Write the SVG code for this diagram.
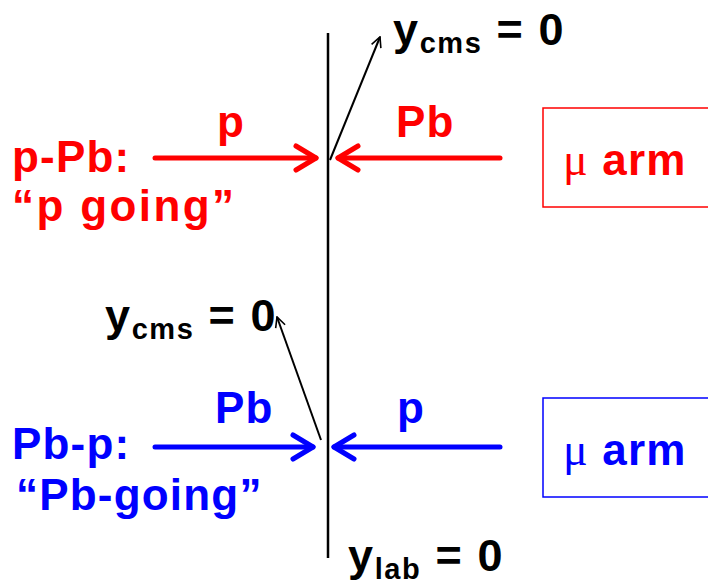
<svg xmlns="http://www.w3.org/2000/svg" width="708" height="584" viewBox="0 0 708 584">
<style>
text{font-family:"Liberation Sans",Arial,sans-serif;font-weight:bold;letter-spacing:1.2px}
.r{fill:#ff0000}.b{fill:#0000ff}.k{fill:#000}
.big{font-size:44px}
.lbl{font-size:45px;letter-spacing:1.6px}
.sub{font-size:29px}
.wide{letter-spacing:2.4px}
.mu{font-family:"Liberation Serif","Times New Roman",serif;font-weight:normal;font-size:46px}
.thick{stroke-width:5;fill:none;stroke-linecap:round;stroke-linejoin:round}
</style>
<defs>
<marker id="ha" viewBox="0 0 12 12" refX="11" refY="6" markerWidth="12" markerHeight="12" markerUnits="userSpaceOnUse" orient="auto"><path d="M1,1 L11,6 L1,11" fill="none" stroke="#000" stroke-width="1.6"/></marker>
</defs>
<g id="axis"><line x1="328" y1="33" x2="328" y2="558" stroke="#000" stroke-width="2.5"/></g>
<g id="connectors">
<line x1="330" y1="160" x2="380" y2="37" stroke="#000" stroke-width="2" marker-end="url(#ha)"/>
<line x1="321" y1="440" x2="277" y2="317" stroke="#000" stroke-width="2" marker-end="url(#ha)"/>
<g class="thick" stroke="#ff0000">
<line x1="155" y1="158" x2="316" y2="158"/><path d="M296,146 L316,158 L296,170"/>
<line x1="500" y1="158" x2="338" y2="158"/><path d="M358,146 L338,158 L358,170"/>
</g>
<g class="thick" stroke="#0000ff">
<line x1="155" y1="447" x2="313" y2="447"/><path d="M293,435 L313,447 L293,459"/>
<line x1="500" y1="447" x2="334" y2="447"/><path d="M354,435 L334,447 L354,459"/>
</g>
</g>
<g id="top-label"><text class="k lbl" x="393" y="45">y<tspan class="sub" dy="8">cms</tspan><tspan dy="-8"> = 0</tspan></text></g>
<g id="pPb">
<text class="r big" x="217" y="137">p</text>
<text class="r big" x="396" y="137">Pb</text>
<text class="r big" x="12" y="172">p-Pb:</text>
<text class="r big wide" x="12" y="221">“p going”</text>
</g>
<g id="red-arm"><rect x="543" y="108" width="180" height="99" fill="none" stroke="#ff0000" stroke-width="1.5"/>
<text class="r big" x="563" y="175"><tspan class="mu">μ</tspan> arm</text></g>
<g id="mid-label"><text class="k lbl" x="105" y="331">y<tspan class="sub" dy="8">cms</tspan><tspan dy="-8"> = 0</tspan></text></g>
<g id="Pbp">
<text class="b big" x="215" y="423">Pb</text>
<text class="b big" x="397" y="423">p</text>
<text class="b big" x="12" y="459">Pb-p:</text>
<text class="b big" x="16" y="510">“Pb-going”</text>
</g>
<g id="blue-arm"><rect x="543" y="398" width="180" height="99" fill="none" stroke="#0000ff" stroke-width="1.5"/>
<text class="b big" x="563" y="465"><tspan class="mu">μ</tspan> arm</text></g>
<g id="bottom-label"><text class="k lbl" x="348" y="571">y<tspan class="sub" dy="8">lab</tspan><tspan dy="-8"> = 0</tspan></text></g>
</svg>
